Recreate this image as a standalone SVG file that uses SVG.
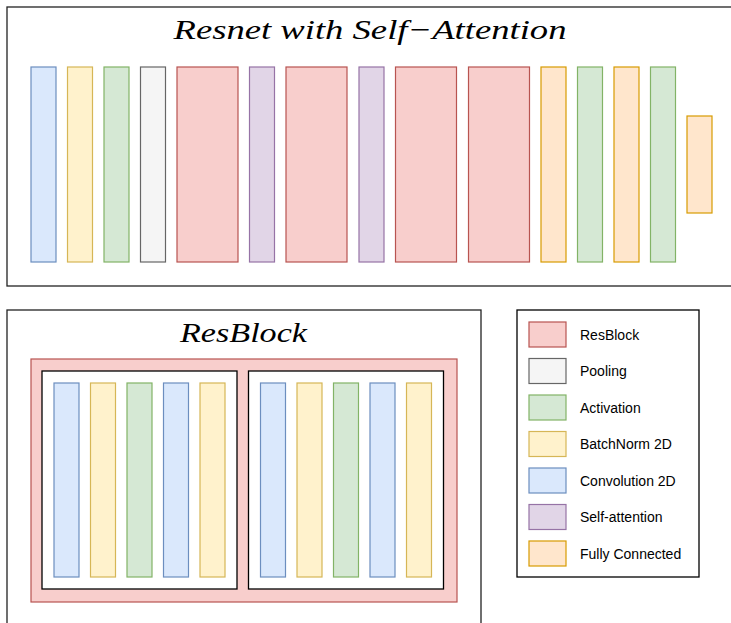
<svg xmlns="http://www.w3.org/2000/svg" width="731" height="623" viewBox="0 0 731 623">
<style>
.frame{fill:#fff;stroke:#222;stroke-width:1.3}
.blue{fill:#dae8fc;stroke:#6c8ebf;stroke-width:1.2}
.yellow{fill:#fff2cc;stroke:#d6b656;stroke-width:1.2}
.green{fill:#d5e8d4;stroke:#82b366;stroke-width:1.2}
.gray{fill:#f5f5f5;stroke:#666666;stroke-width:1.2}
.red{fill:#f8cecc;stroke:#b85450;stroke-width:1.2}
.purple{fill:#e1d5e7;stroke:#9673a6;stroke-width:1.2}
.orange{fill:#ffe6cc;stroke:#d79b00;stroke-width:1.2}
.inner{fill:#fff;stroke:#000;stroke-width:1.3}
.title{font-family:"Liberation Serif","DejaVu Serif",serif;font-style:italic;font-size:28px;fill:#000}
.leg{font-family:"Liberation Sans",Arial,sans-serif;font-size:14px;fill:#000}
</style>
<g id="resnet">
<rect class="frame" x="7" y="7" width="730" height="279"/>
<text class="title" x="370" y="39" text-anchor="middle" textLength="393" lengthAdjust="spacingAndGlyphs">Resnet with Self−Attention</text>
<g id="top-layers">
<rect class="blue" x="31" y="67" width="25" height="195"/>
<rect class="yellow" x="67.5" y="67" width="25" height="195"/>
<rect class="green" x="104" y="67" width="25" height="195"/>
<rect class="gray" x="140.5" y="67" width="25" height="195"/>
<rect class="red" x="177" y="67" width="61" height="195"/>
<rect class="purple" x="249.5" y="67" width="25" height="195"/>
<rect class="red" x="286" y="67" width="61" height="195"/>
<rect class="purple" x="359" y="67" width="25" height="195"/>
<rect class="red" x="395.5" y="67" width="61" height="195"/>
<rect class="red" x="468.5" y="67" width="61" height="195"/>
<rect class="orange" x="541" y="67" width="25" height="195"/>
<rect class="green" x="577.5" y="67" width="25" height="195"/>
<rect class="orange" x="614" y="67" width="25" height="195"/>
<rect class="green" x="650.5" y="67" width="25" height="195"/>
<rect class="orange" x="687" y="116" width="25" height="97"/>
</g>
</g>
<g id="resblock">
<rect class="frame" x="7" y="310" width="474" height="330"/>
<text class="title" x="243.5" y="342" text-anchor="middle" textLength="127" lengthAdjust="spacingAndGlyphs">ResBlock</text>
<rect class="red" x="31" y="359" width="426" height="243"/>
<g id="sub1">
<rect class="inner" x="42" y="371" width="195" height="218"/>
<rect class="blue" x="54" y="383" width="25" height="194"/>
<rect class="yellow" x="90.5" y="383" width="25" height="194"/>
<rect class="green" x="127" y="383" width="25" height="194"/>
<rect class="blue" x="163.5" y="383" width="25" height="194"/>
<rect class="yellow" x="200" y="383" width="25" height="194"/>
</g>
<g id="sub2">
<rect class="inner" x="248.5" y="371" width="195" height="218"/>
<rect class="blue" x="260.5" y="383" width="25" height="194"/>
<rect class="yellow" x="297" y="383" width="25" height="194"/>
<rect class="green" x="333.5" y="383" width="25" height="194"/>
<rect class="blue" x="370" y="383" width="25" height="194"/>
<rect class="yellow" x="406.5" y="383" width="25" height="194"/>
</g>
</g>
<g id="legend">
<rect class="inner" x="517" y="310" width="182" height="267"/>
<rect class="red" x="529" y="322" width="37" height="25"/>
<text class="leg" x="580" y="339.5">ResBlock</text>
<rect class="gray" x="529" y="358.5" width="37" height="25"/>
<text class="leg" x="580" y="376">Pooling</text>
<rect class="green" x="529" y="395" width="37" height="25"/>
<text class="leg" x="580" y="412.5">Activation</text>
<rect class="yellow" x="529" y="431.5" width="37" height="25"/>
<text class="leg" x="580" y="449">BatchNorm 2D</text>
<rect class="blue" x="529" y="468" width="37" height="25"/>
<text class="leg" x="580" y="485.5">Convolution 2D</text>
<rect class="purple" x="529" y="504.5" width="37" height="25"/>
<text class="leg" x="580" y="522">Self-attention</text>
<rect class="orange" x="529" y="541" width="37" height="25"/>
<text class="leg" x="580" y="558.5">Fully Connected</text>
</g>
<g id="connectors"></g>
</svg>
